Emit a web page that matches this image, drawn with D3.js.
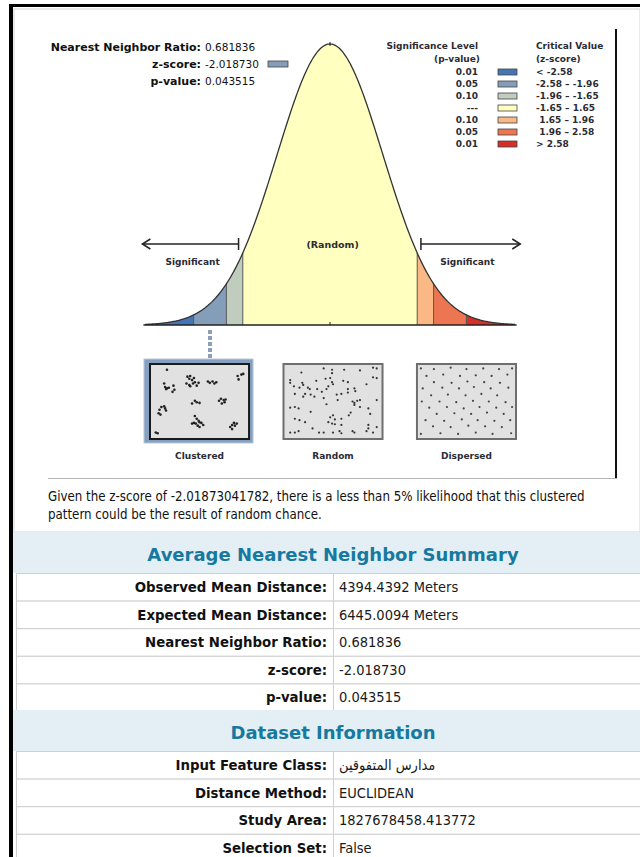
<!DOCTYPE html>
<html>
<head>
<meta charset="utf-8">
<script src="https://cdn.jsdelivr.net/npm/d3@7/dist/d3.min.js"></script>
<style>
  body { margin: 0; background: #fff; }
  text { font-family: "DejaVu Sans Condensed", "DejaVu Sans", sans-serif; white-space: pre; }
  .verd text, text.verd { font-family: "DejaVu Sans", sans-serif; }
</style>
</head>
<body>
<svg id="page" width="640" height="857"></svg>
<script>
// ---- data ----
let statLabels = ["Nearest Neighbor Ratio:", "z-score:", "p-value:"]
let statValues = ["0.681836", "-2.018730", "0.043515"]
let zScore = -2.018730

let bandBreaks = [-3.5, -2.58, -1.96, -1.65, 1.65, 1.96, 2.58, 3.5]
let bandColors = ["#4575b5", "#849eba", "#c0ccbe", "#ffffbf", "#fab984", "#ed7551", "#d62f27"]
let legendP = ["0.01", "0.05", "0.10", "---", "0.10", "0.05", "0.01"]
let legendZ = ["< -2.58", "-2.58 – -1.96", "-1.96 – -1.65", "-1.65 – 1.65", " 1.65 – 1.96", " 1.96 – 2.58", "> 2.58"]

let patternNames = ["Clustered", "Random", "Dispersed"]
// dot positions inside each pattern box, 0..100 on both axes
let clusteredPts = [[15,4],[12,24],[13,29],[15,31],[17,30],[14,32],[22,27],[23,33],[21,36],
  [37,14],[39,17],[40,13],[42,19],[44,16],[36,24],[39,26],[40,28],[43,24],[45,22],[47,27],[49,23],
  [59,21],[61,23],[64,21],[66,24],[68,22],[91,13],[92,18],[95,11],[97,10],
  [42,53],[45,49],[47,51],[50,52],[71,49],[73,46],[76,48],[74,53],[77,51],[78,47],
  [6,67],[7,62],[9,58],[12,57],[13,60],[14,63],[8,69],
  [45,71],[47,75],[49,78],[50,80],[44,81],[42,82],[46,82],[52,81],[54,84],[48,85],[50,87],
  [83,87],[85,84],[87,81],[88,85],[90,82],[85,90],[3,95],[5,96]]
let randomPts = [[16,8],[40,2],[49,4],[49,9],[62,4],[79,5],[93,1],[97,2],
  [4,19],[17,23],[32,20],[42,17],[47,16],[49,22],[61,20],[66,22],[86,25],[93,15],[97,16],[4,23],
  [8,28],[14,30],[18,26],[23,30],[25,32],[33,32],[38,36],[43,32],[45,28],[50,25],[66,32],[73,31],[74,35],
  [9,39],[20,39],[26,40],[30,43],[18,43],[40,45],[54,40],[59,39],[66,37],[55,48],[97,48],
  [9,58],[13,60],[4,59],[43,54],[71,50],[73,52],[76,49],[79,48],[73,55],[79,58],[88,60],
  [26,65],[69,66],[67,70],[90,68],[47,73],[50,70],[52,76],[9,75],[14,77],[20,80],[59,75],
  [45,80],[49,82],[52,83],[59,84],[88,84],[88,89],[28,89],[35,95],[40,95],[50,95],[57,93],
  [4,95],[9,95],[13,93],[59,96],[71,93],[73,95],[86,93],[93,95],[97,87]]
let dispersedPts = [[1,2],[15,3],[33,1],[50,3],[68,2],[85,3],[99,2],
  [7,13],[25,11],[43,13],[60,12],[77,13],[94,11],
  [15,22],[34,23],[51,21],[69,22],[86,23],
  [3,31],[24,30],[42,31],[58,29],[76,31],[95,30],
  [12,41],[30,40],[49,41],[66,39],[83,41],
  [2,50],[21,50],[39,51],[57,49],[74,50],[92,51],
  [10,59],[29,58],[47,60],[64,58],[82,59],[99,58],
  [18,68],[37,67],[55,68],[72,66],[90,68],
  [6,77],[26,78],[45,76],[62,77],[80,78],[97,77],
  [14,86],[33,87],[52,85],[70,86],[88,87],
  [1,97],[22,96],[41,97],[60,95],[78,97],[98,96]]

let message = ["Given the z-score of -2.01873041782, there is a less than 5% likelihood that this clustered",
               "pattern could be the result of random chance."]

let summaryTitle = "Average Nearest Neighbor Summary"
let summaryLabels = ["Observed Mean Distance:", "Expected Mean Distance:", "Nearest Neighbor Ratio:", "z-score:", "p-value:"]
let summaryValues = ["4394.4392 Meters", "6445.0094 Meters", "0.681836", "-2.018730", "0.043515"]

let datasetTitle = "Dataset Information"
let datasetLabels = ["Input Feature Class:", "Distance Method:", "Study Area:", "Selection Set:"]
let datasetValues = ["مدارس المتفوقين", "EUCLIDEAN", "1827678458.413772", "False"]

// ---- drawing ----
let svg = d3.select("#page")
let ink = "#2b2b33"

// page frame
svg.append("rect").attr("x", 14).attr("y", 9).attr("width", 626).attr("height", 523)
    .attr("fill", "#fff").attr("stroke", "#d4d4d4")
svg.append("rect").attr("x", 9).attr("y", 4).attr("width", 631).attr("height", 3).attr("fill", "#000")

// chart image frame (right + bottom)
svg.append("rect").attr("x", 615).attr("y", 29).attr("width", 2).attr("height", 449).attr("fill", "#111")
svg.append("line").attr("x1", 48).attr("x2", 617).attr("y1", 478.5).attr("y2", 478.5)
    .attr("stroke", "#b5b5b5")

// normal curve
let xZ = d3.scaleLinear().domain([-3.5, 3.5]).range([145, 515])
let yD = d3.scaleLinear().domain([0, 0.3989]).range([325, 44])
function pdf(z) { return Math.exp(-z * z / 2) / Math.sqrt(2 * Math.PI) }

let area = d3.area().x(d => xZ(d)).y0(yD(0)).y1(d => yD(pdf(d)))
let line = d3.line().x(d => xZ(d)).y(d => yD(pdf(d)))
let chart = svg.append("g").attr("class", "verd")

bandColors.forEach(function (c, i) {
    let z0 = bandBreaks[i], z1 = bandBreaks[i + 1]
    let zs = d3.range(z0, z1, 0.02).concat([z1])
    chart.append("path").datum(zs).attr("d", area).attr("fill", c)
})
// band dividers
chart.selectAll(".div").data(bandBreaks.slice(1, -1)).enter().append("line")
    .attr("x1", d => xZ(d)).attr("x2", d => xZ(d))
    .attr("y1", yD(0)).attr("y2", d => yD(pdf(d)))
    .attr("stroke", "#555").attr("stroke-width", 1)
chart.append("path").datum(d3.range(-3.5, 3.501, 0.02)).attr("d", line)
    .attr("fill", "none").attr("stroke", "#333").attr("stroke-width", 1.3)
chart.append("line").attr("x1", xZ(-3.53)).attr("x2", xZ(3.53))
    .attr("y1", yD(0)).attr("y2", yD(0)).attr("stroke", "#222").attr("stroke-width", 1.5)
chart.append("line").attr("x1", xZ(0)).attr("x2", xZ(0))
    .attr("y1", yD(0)).attr("y2", yD(0) - 3).attr("stroke", "#222")
chart.append("line").attr("x1", xZ(0)).attr("x2", xZ(0))
    .attr("y1", yD(pdf(0)) - 2).attr("y2", yD(pdf(0)) + 2).attr("stroke", "#222")

// arrows
let arrowY = 244
function arrow(xFrom, xTo) {
    let dir = xTo > xFrom ? 1 : -1
    chart.append("line").attr("x1", xFrom).attr("x2", xTo).attr("y1", arrowY).attr("y2", arrowY)
        .attr("stroke", "#222").attr("stroke-width", 1.5)
    chart.append("line").attr("x1", xFrom).attr("x2", xFrom).attr("y1", arrowY - 6).attr("y2", arrowY + 6)
        .attr("stroke", "#222").attr("stroke-width", 1.5)
    chart.append("path")
        .attr("d", `M${xTo - dir * 8},${arrowY - 5} L${xTo},${arrowY} L${xTo - dir * 8},${arrowY + 5}`)
        .attr("fill", "none").attr("stroke", "#222").attr("stroke-width", 1.5)
}
arrow(xZ(-1.73), xZ(-3.55))
arrow(xZ(1.72), xZ(3.6))

chart.append("text").attr("x", xZ(0.05)).attr("y", 248).attr("text-anchor", "middle")
    .attr("font-size", 9.5).attr("font-weight", "bold").attr("fill", ink).text("(Random)")
chart.selectAll(".sig").data([-2.6, 2.6]).enter().append("text")
    .attr("x", d => xZ(d)).attr("y", 265).attr("text-anchor", "middle")
    .attr("font-size", 9).attr("font-weight", "bold").attr("fill", ink).text("Significant")

// stats block (top left)
let statY = d3.scalePoint().domain(d3.range(statLabels.length)).range([51, 85])
let stats = svg.append("g").attr("class", "verd").attr("font-size", 11).attr("fill", "#111")
stats.selectAll(".sl").data(statLabels).enter().append("text")
    .attr("x", 201).attr("y", (d, i) => statY(i)).attr("text-anchor", "end")
    .attr("font-weight", "bold").text(d => d)
stats.selectAll(".sv").data(statValues).enter().append("text")
    .attr("x", 205).attr("y", (d, i) => statY(i)).attr("font-size", 10.5).text(d => d)
// swatch of the band holding the z-score
let zBand = d3.bisectRight(bandBreaks, zScore) - 1
stats.append("rect").attr("x", 268).attr("y", statY(1) - 7).attr("width", 20).attr("height", 6)
    .attr("fill", bandColors[zBand]).attr("stroke", "#444").attr("stroke-width", 0.8)

// legend
let legY = d3.scalePoint().domain(d3.range(legendP.length)).range([75, 147])
let leg = svg.append("g").attr("class", "verd").attr("font-size", 9).attr("font-weight", "bold").attr("fill", ink)
leg.append("text").attr("x", 478).attr("y", 49).attr("text-anchor", "end").text("Significance Level")
leg.append("text").attr("x", 480).attr("y", 62).attr("text-anchor", "end").text("(p-value)")
leg.append("text").attr("x", 536).attr("y", 49).text("Critical Value")
leg.append("text").attr("x", 536).attr("y", 62).text("(z-score)")
leg.selectAll(".lp").data(legendP).enter().append("text")
    .attr("x", 478).attr("y", (d, i) => legY(i)).attr("text-anchor", "end").text(d => d)
leg.selectAll(".lr").data(bandColors).enter().append("rect")
    .attr("x", 498).attr("y", (d, i) => legY(i) - 6).attr("width", 19).attr("height", 6)
    .attr("fill", d => d).attr("stroke", "#444").attr("stroke-width", 0.8)
leg.selectAll(".lz").data(legendZ).enter().append("text")
    .attr("x", 536).attr("y", (d, i) => legY(i)).text(d => d)

// pattern boxes
let boxX = d3.scaleBand().domain(patternNames).range([150, 516]).paddingInner(0.258)
let boxTop = 364, boxH = 75
let ptsByName = { "Clustered": clusteredPts, "Random": randomPts, "Dispersed": dispersedPts }
let dotStyle = { "Clustered": [1.3, "#222"], "Random": [1.1, "#333"], "Dispersed": [1.1, "#444"] }

// dotted link from the z-score band down to the highlighted box
let linkX = xZ((bandBreaks[zBand] + bandBreaks[zBand + 1]) / 2)
svg.selectAll(".link").data(d3.range(5)).enter().append("rect")
    .attr("x", linkX - 2).attr("y", d => 330 + d * 6).attr("width", 4).attr("height", 4)
    .attr("fill", "#8d9fb8")

patternNames.forEach(function (name) {
    let x0 = boxX(name), w = boxX.bandwidth()
    let g = svg.append("g").attr("class", "verd")
    let highlighted = name === "Clustered"
    if (highlighted) {
        g.append("rect").attr("x", x0 - 6).attr("y", boxTop - 5).attr("width", w + 10).attr("height", boxH + 9)
            .attr("fill", "#86a0c2").attr("stroke", "#b9c8dc")
    }
    g.append("rect").attr("x", x0).attr("y", boxTop).attr("width", w).attr("height", boxH)
        .attr("fill", "#e1e1e1").attr("stroke", highlighted ? "#1a1a1a" : "#6e6e6e").attr("stroke-width", 2)
    let px = d3.scaleLinear().domain([0, 100]).range([x0 + 3, x0 + w - 3])
    let py = d3.scaleLinear().domain([0, 100]).range([boxTop + 3, boxTop + boxH - 3])
    g.selectAll("circle").data(ptsByName[name]).enter().append("circle")
        .attr("cx", d => px(d[0])).attr("cy", d => py(d[1]))
        .attr("r", dotStyle[name][0]).attr("fill", dotStyle[name][1])
    g.append("text").attr("x", x0 + w / 2).attr("y", 459).attr("text-anchor", "middle")
        .attr("font-size", 9).attr("font-weight", "bold").attr("fill", ink).text(name)
})

// interpretation text
svg.selectAll(".msg").data(message).enter().append("text")
    .attr("x", 48).attr("y", (d, i) => 501 + i * 18).attr("font-size", 13.2).attr("fill", "#111").text(d => d)

// tables
function table(title, labels, values, top) {
    let rowH = 27.6, headH = 41
    svg.append("rect").attr("x", 13).attr("y", top).attr("width", 627).attr("height", headH).attr("fill", "#e4eff5")
    svg.append("text").attr("class", "verd").attr("x", 333).attr("y", top + headH / 2 + 8).attr("text-anchor", "middle")
        .attr("font-size", 18).attr("font-weight", "bold").attr("fill", "#16799f").text(title)
    let rowY = d3.scaleLinear().domain([0, 1]).range([top + headH, top + headH + rowH])
    let rows = svg.selectAll(null).data(labels).enter().append("g")
    rows.append("rect").attr("x", 16.5).attr("y", (d, i) => rowY(i) + 0.5).attr("width", 630).attr("height", rowH)
        .attr("fill", "#fff").attr("stroke", "#cfcfcf")
    rows.append("line").attr("x1", 333.5).attr("x2", 333.5)
        .attr("y1", (d, i) => rowY(i)).attr("y2", (d, i) => rowY(i + 1)).attr("stroke", "#cfcfcf")
    rows.append("text").attr("x", 327).attr("y", (d, i) => rowY(i) + 19).attr("text-anchor", "end")
        .attr("font-size", 14.8).attr("font-weight", "bold").attr("fill", "#111").text(d => d)
    rows.append("text").attr("x", 339).attr("y", (d, i) => rowY(i) + 19)
        .attr("font-size", 14.5).attr("fill", "#1a1a1a")
        .text((d, i) => values[i])
}
table(summaryTitle, summaryLabels, summaryValues, 532)
table(datasetTitle, datasetLabels, datasetValues, 710)
// left black border over everything
svg.append("rect").attr("x", 9).attr("y", 4).attr("width", 4).attr("height", 853).attr("fill", "#000")
</script>
</body>
</html>
